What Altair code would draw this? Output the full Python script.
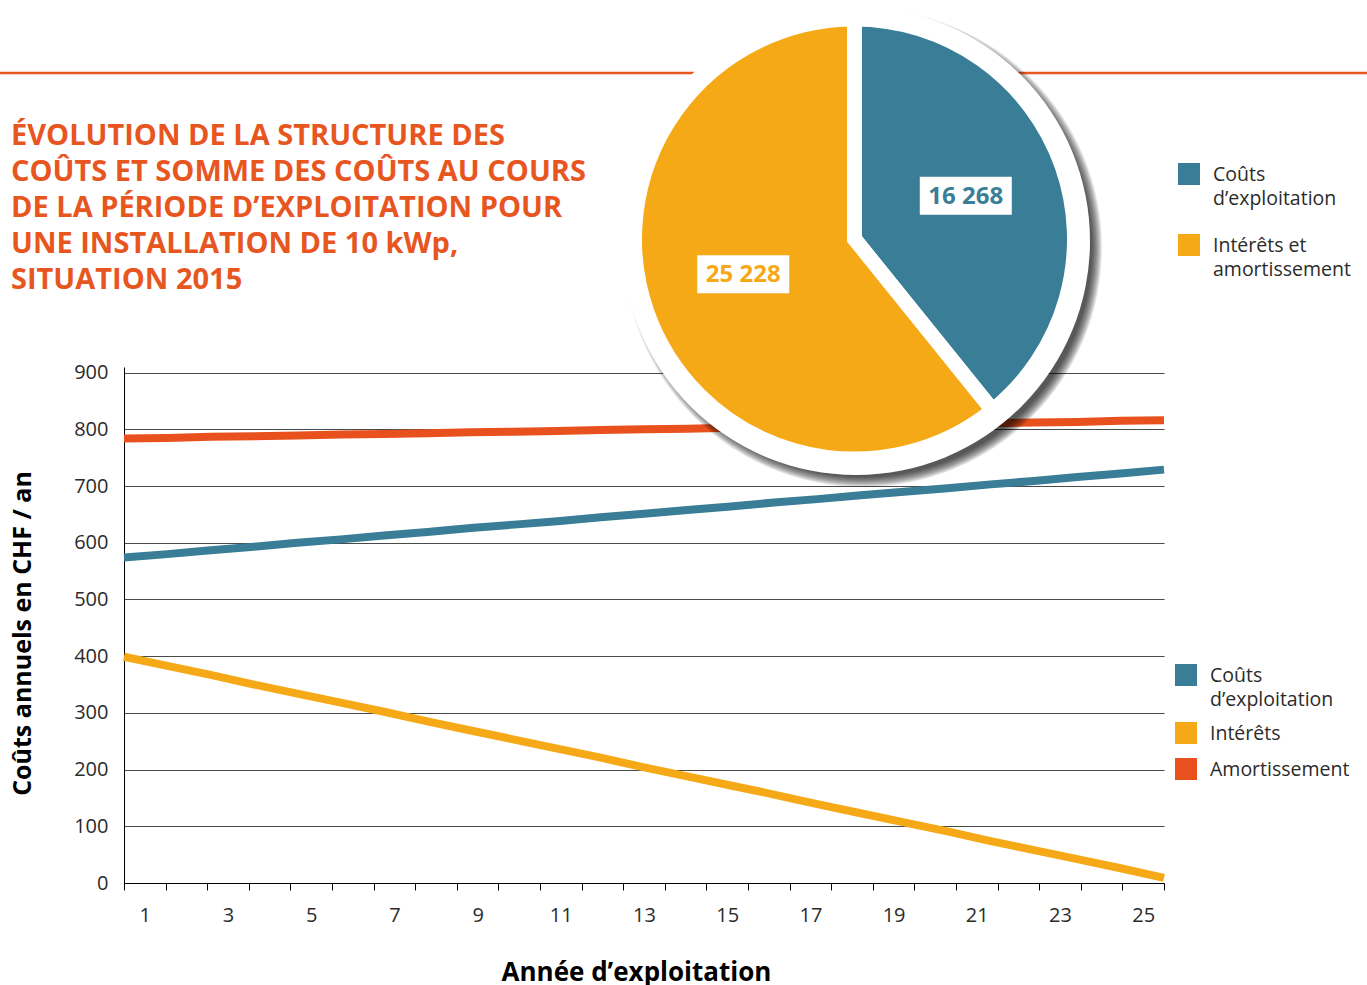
import altair as alt
import pandas as pd

# ---- data -------------------------------------------------------------
years = list(range(1, 26))
couts_exploitation = [574, 580, 587, 593, 600, 606, 613, 619, 626, 632, 638, 645, 651,
                      658, 664, 671, 677, 684, 690, 696, 703, 709, 716, 722, 729]
interets = [399, 383, 367, 350, 334, 318, 302, 285, 269, 253, 237, 221, 204,
            188, 172, 156, 139, 123, 107, 91, 74, 58, 42, 26, 9]
amortissement = [784, 785, 787, 788, 789, 791, 792, 793, 795, 796, 797, 799, 800,
                 801, 803, 804, 805, 807, 808, 809, 811, 812, 813, 815, 816]

series_names = ["Coûts d’exploitation", "Intérêts", "Amortissement"]
pie_labels = ["Coûts d’exploitation", "Intérêts et amortissement"]
pie_values = [16268, 25228]

title_lines = [
    "ÉVOLUTION DE LA STRUCTURE DES",
    "COÛTS ET SOMME DES COÛTS AU COURS",
    "DE LA PÉRIODE D’EXPLOITATION POUR",
    "UNE INSTALLATION DE 10 kWp,",
    "SITUATION 2015",
]
y_title = "Coûts annuels en CHF / an"
x_title = "Année d’exploitation"

legend_top = [["Coûts", "d’exploitation"], ["Intérêts et", "amortissement"]]
legend_bottom = [["Coûts", "d’exploitation"], ["Intérêts"], ["Amortissement"]]

# ---- style ------------------------------------------------------------
TEAL = "#397E96"
YELLOW = "#F6A916"
RED = "#E8511E"
ORANGE_TXT = "#E8561F"
INK = "#2b2b2b"
FONT = "Open Sans"

W, H = 1040, 516          # plot area
PAD_L, PAD_T = 124, 367   # plot origin inside the canvas
CANVAS_W, CANVAS_H = 1367, 985

# pie geometry (pixels relative to the plot origin)
PIE_CX, PIE_CY = 730.5, -128
PIE_R = 220
DISK_CX, DISK_CY, DISK_R = 732, -126, 234
LABEL_R = 118

# ---- line chart -------------------------------------------------------
lines_df = pd.DataFrame({
    "annee": years * 3,
    "cout": couts_exploitation + interets + amortissement,
    "serie": [series_names[0]] * 25 + [series_names[1]] * 25 + [series_names[2]] * 25,
})

n_years = len(years)
boundaries = [1 + k * (years[-1] - years[0]) / n_years for k in range(n_years + 1)]
k_expr = f"round((datum.value - 1) * {n_years} / {years[-1] - years[0]})"
x_label_expr = f"({k_expr} % 2 == 0 && {k_expr} < {n_years}) ? '' + ({k_expr} + 1) : ''"

lines = alt.Chart(lines_df).mark_line(strokeWidth=8, strokeCap="butt").encode(
    x=alt.X("annee:Q",
            scale=alt.Scale(domain=[years[0], years[-1]], nice=False, zero=False),
            axis=alt.Axis(values=boundaries, labelExpr=x_label_expr,
                          labelOffset=W / n_years / 2, tickSize=7, tickColor="black",
                          domainColor="black", grid=False, labelFontSize=20,
                          labelColor=INK, labelFont=FONT, labelPadding=15,
                          labelFlush=False, labelOverlap=False,
                          title=x_title, titleFontSize=26, titleFont=FONT,
                          titleFontWeight="bold", titleColor="black",
                          titleBaseline="alphabetic",
                          titleX=W / 2 - 8, titleY=97)),
    y=alt.Y("cout:Q",
            scale=alt.Scale(domain=[0, 910], nice=False),
            axis=alt.Axis(values=list(range(0, 1000, 100)), ticks=False,
                          domainColor="black", grid=True, gridColor="#4a4a4a",
                          gridWidth=1, labelFontSize=20, labelColor=INK,
                          labelFont=FONT, labelPadding=16,
                          title=y_title, titleFontSize=25, titleFont=FONT,
                          titleFontWeight="bold", titleColor="black",
                          titleX=-89, titleY=H / 2 + 8, titleAngle=-90)),
    color=alt.Color("serie:N",
                    scale=alt.Scale(domain=series_names, range=[TEAL, YELLOW, RED]),
                    legend=None),
    detail="serie:N",
)

one = pd.DataFrame({"a": [0]})

# orange rule under the header
header_rule = alt.Chart(one).mark_rule(color=ORANGE_TXT, strokeWidth=2.5).encode(
    x=alt.value(-PAD_L), x2=alt.value(CANVAS_W - PAD_L), y=alt.value(73 - PAD_T))

# ---- pie with its white disk and soft shadow --------------------------
shadow_df = pd.DataFrame({"k": list(range(11))})
shadow = alt.Chart(shadow_df).transform_calculate(
    s=f"pow(2 * ({DISK_R} - 5 + datum.k), 2)"
).mark_circle(color="black", opacity=0.09).encode(
    x=alt.value(DISK_CX + 7), y=alt.value(DISK_CY + 7),
    size=alt.Size("s:Q", scale=None, legend=None),
)
disk = alt.Chart(one).mark_circle(color="white", opacity=1, size=(2 * DISK_R) ** 2).encode(
    x=alt.value(DISK_CX), y=alt.value(DISK_CY))

pie_df = pd.DataFrame({"label": pie_labels, "value": pie_values,
                       "idx": list(range(len(pie_values)))})
pie_scale = alt.Scale(domain=pie_labels, range=[TEAL, YELLOW])

slices = alt.Chart(pie_df).mark_arc(radius=PIE_R, stroke="white", strokeWidth=15,
                                    strokeJoin="miter").encode(
    theta=alt.Theta("value:Q", stack=True),
    order=alt.Order("idx:Q"),
    color=alt.Color("label:N", scale=pie_scale, legend=None),
    x=alt.value(PIE_CX), y=alt.value(PIE_CY),
)

# value labels sit on each slice's bisector, on a small white plate
pie_pos = alt.Chart(pie_df).transform_joinaggregate(
    total="sum(value)"
).transform_window(
    cum="sum(value)", sort=[alt.SortField("idx")]
).transform_calculate(
    mid="(datum.cum - datum.value / 2) / datum.total * 2 * PI",
    px=f"{PIE_CX} + {LABEL_R} * sin(datum.mid)",
    py=f"{PIE_CY} - {LABEL_R} * cos(datum.mid) - 4",
    bx1="datum.px - 46", bx2="datum.px + 46",
    by1="datum.py - 19", by2="datum.py + 19",
    txt="replace(format(datum.value, ','), ',', ' ')",
)

label_boxes = pie_pos.mark_rect(color="white").encode(
    x=alt.X("bx1:Q", scale=None, axis=None), x2="bx2:Q",
    y=alt.Y("by1:Q", scale=None, axis=None), y2="by2:Q",
)
label_texts = pie_pos.mark_text(font=FONT, fontSize=24, fontWeight="bold",
                                align="center", baseline="middle", dy=1).encode(
    x=alt.X("px:Q", scale=None, axis=None),
    y=alt.Y("py:Q", scale=None, axis=None),
    text="txt:N",
    color=alt.Color("label:N", scale=pie_scale, legend=None),
)

# ---- header text ------------------------------------------------------
header = alt.Chart(one).mark_text(
    text=title_lines, font=FONT, fontSize=29, fontWeight="bold", color=ORANGE_TXT,
    align="left", baseline="alphabetic", lineHeight=36,
).encode(x=alt.value(11 - PAD_L), y=alt.value(145 - PAD_T))

# ---- hand-placed legends ---------------------------------------------
def legend_item(lines_txt, color, sq_x, sq_y, tx, ty):
    sq = alt.Chart(one).mark_square(color=color, size=484, opacity=1).encode(
        x=alt.value(sq_x - PAD_L), y=alt.value(sq_y - PAD_T))
    tx_mark = alt.Chart(one).mark_text(
        text=lines_txt, font=FONT, fontSize=19.5, color=INK, align="left",
        baseline="alphabetic", lineHeight=24,
    ).encode(x=alt.value(tx - PAD_L), y=alt.value(ty - PAD_T))
    return [sq, tx_mark]

legend_layers = []
for lines_txt, color, sy, ty in zip(legend_top, [TEAL, YELLOW], [174, 245], [181, 252]):
    legend_layers += legend_item(lines_txt, color, 1189, sy, 1213, ty)
for lines_txt, color, sy, ty in zip(legend_bottom, [TEAL, YELLOW, RED],
                                    [675, 733, 769], [682, 740, 776]):
    legend_layers += legend_item(lines_txt, color, 1186, sy, 1210, ty)

chart = alt.layer(
    header_rule, lines, shadow, disk, slices, label_boxes, label_texts, header,
    *legend_layers,
).resolve_scale(
    color="independent", theta="independent"
).properties(
    width=W, height=H,
    autosize=alt.AutoSizeParams(type="none"),
    padding={"left": PAD_L, "top": PAD_T, "right": CANVAS_W - PAD_L - W,
             "bottom": CANVAS_H - PAD_T - H},
    background="white",
).configure_view(stroke=None)

chart.save("out.html", embed_options={"renderer": "svg", "actions": False})
